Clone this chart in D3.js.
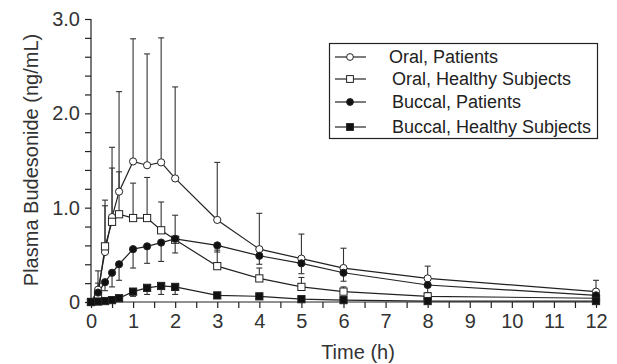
<!DOCTYPE html>
<html><head><meta charset="utf-8">
<script src="https://cdn.jsdelivr.net/npm/d3@7"></script>
<style>body{margin:0;background:#fff}svg{display:block}</style>
</head><body>
<svg id="c" width="617" height="364"></svg>
<script>
const times = [0, 0.167, 0.333, 0.5, 0.667, 1, 1.333, 1.667, 2, 3, 4, 5, 6, 8, 12];
const oralPatients      = [0, 0.13, 0.53, 0.90, 1.17, 1.49, 1.45, 1.48, 1.31, 0.87, 0.56, 0.46, 0.36, 0.25, 0.11];
const oralPatientsUpper = [0, 0.33, 1.08, 1.64, 2.23, 2.79, 2.63, 2.80, 2.28, 1.48, 0.94, 0.72, 0.57, 0.38, 0.23];
const oralHealthy       = [0, 0.07, 0.59, 0.85, 0.93, 0.89, 0.89, 0.76, 0.66, 0.38, 0.25, 0.16, 0.11, 0.06, 0.04];
const oralHealthyUpper  = [0, 0.20, 1.02, 1.42, 1.38, 1.26, 1.32, 1.06, 0.92, 0.55, 0.36, 0.26, 0.16, 0.10, 0.06];
const buccalPatients      = [0, 0.10, 0.21, 0.31, 0.40, 0.56, 0.59, 0.63, 0.67, 0.60, 0.49, 0.41, 0.31, 0.18, 0.07];
const buccalPatientsLower = [0, 0.04, 0.12, 0.16, 0.23, 0.36, 0.41, 0.43, 0.52, 0.53, 0.40, 0.30, 0.22, 0.10, 0.03];
const buccalHealthy      = [0, 0.005, 0.01, 0.02, 0.04, 0.11, 0.15, 0.17, 0.16, 0.07, 0.06, 0.03, 0.02, 0.01, 0.01];
const buccalHealthyLower = [0, 0.005, 0.01, 0.02, 0.02, 0.06, 0.08, 0.08, 0.08, 0.07, 0.06, 0.03, 0.02, 0.01, 0.01];
const seriesNames = ["Oral, Patients", "Oral, Healthy Subjects", "Buccal, Patients", "Buccal, Healthy Subjects"];
const xTickValues = [0,1,2,3,4,5,6,7,8,9,10,11,12];
const yTickLabels = ["0", "1.0", "2.0", "3.0"];

const series = [
  {name: seriesNames[0], vals: oralPatients, err: oralPatientsUpper, shape: "circle", fill: "#fff"},
  {name: seriesNames[1], vals: oralHealthy, err: oralHealthyUpper, shape: "square", fill: "#fff"},
  {name: seriesNames[2], vals: buccalPatients, err: buccalPatientsLower, shape: "circle", fill: "#111"},
  {name: seriesNames[3], vals: buccalHealthy, err: buccalHealthyLower, shape: "square", fill: "#111"}
];

const svg = d3.select("#c");
const x = d3.scaleLinear().domain([0, 12]).range([91, 596]);
const y = d3.scaleLinear().domain([0, 3]).range([302, 19]);
const ink = "#222";
const font = "Liberation Sans, Arial, sans-serif";

// axes
const yAxis = d3.axisLeft(y).tickValues(d3.range(0, 3.001, 0.2)).tickSize(6)
  .tickFormat(d => { const i = [0,1,2,3].findIndex(v => Math.abs(v - d) < 1e-6); return i >= 0 ? yTickLabels[i] : ""; });
const gy = svg.append("g").attr("transform", `translate(${x(0)},0)`).call(yAxis);
gy.select(".domain").attr("stroke", ink).attr("stroke-width", 1.2).attr("d", `M-0,${y(3)}V${y(0)}`);
gy.selectAll(".tick line").attr("stroke", ink).attr("stroke-width", 1.2);
gy.selectAll(".tick text").attr("font-family", font).attr("font-size", 20).attr("fill", "#333").attr("x", -11);

const xAxis = d3.axisBottom(x).tickValues(d3.range(0, 12.001, 0.5)).tickSize(6)
  .tickFormat(d => xTickValues.includes(d) ? String(d) : "");
const gx = svg.append("g").attr("transform", `translate(0,${y(0)})`).call(xAxis);
gx.select(".domain").attr("stroke", ink).attr("stroke-width", 1.2).attr("d", `M${x(0)},0H${x(12)}`);
gx.selectAll(".tick line").attr("stroke", ink).attr("stroke-width", 1.2);
gx.selectAll(".tick text").attr("font-family", font).attr("font-size", 20).attr("fill", "#333").attr("y", 12);

svg.append("text").attr("x", 358).attr("y", 359).attr("text-anchor", "middle")
  .attr("font-family", font).attr("font-size", 20).attr("fill", "#333").text("Time (h)");
svg.append("text").attr("transform", "translate(38,160) rotate(-90)").attr("text-anchor", "middle")
  .attr("font-family", font).attr("font-size", 20).attr("fill", "#333").text("Plasma Budesonide (ng/mL)");

// lines
const line = d3.line().x((d, i) => x(times[i])).y(d => y(d));
series.forEach(s => {
  svg.append("path").attr("d", line(s.vals)).attr("fill", "none").attr("stroke", ink).attr("stroke-width", 1.2);
});
// error bars
series.forEach(s => {
  const g = svg.append("g");
  s.vals.forEach((v, i) => {
    const e = s.err[i];
    if (Math.abs(e - v) < 0.015) return;
    g.append("line").attr("x1", x(times[i])).attr("x2", x(times[i])).attr("y1", y(v)).attr("y2", y(e))
      .attr("stroke", "#333").attr("stroke-width", 1.1);
    g.append("line").attr("x1", x(times[i]) - 3).attr("x2", x(times[i]) + 3).attr("y1", y(e)).attr("y2", y(e))
      .attr("stroke", "#333").attr("stroke-width", 1.1);
  });
});
// markers
function marker(g, shape, fill, cx, cy, r) {
  if (shape === "circle") {
    g.append("circle").attr("cx", cx).attr("cy", cy).attr("r", r).attr("fill", fill).attr("stroke", ink).attr("stroke-width", 1);
  } else {
    g.append("rect").attr("x", cx - r).attr("y", cy - r).attr("width", 2 * r).attr("height", 2 * r)
      .attr("fill", fill).attr("stroke", ink).attr("stroke-width", 1);
  }
}
series.forEach(s => {
  const g = svg.append("g");
  s.vals.forEach((v, i) => marker(g, s.shape, s.fill, x(times[i]), y(v), 3.6));
});

// legend
const lg = svg.append("g");
lg.append("rect").attr("x", 329.5).attr("y", 43.5).attr("width", 268).attr("height", 95)
  .attr("fill", "#fff").attr("stroke", ink).attr("stroke-width", 1.2);
const rowY = [57, 79, 102, 127];
const textX = [389, 392, 392, 392];
series.forEach((s, i) => {
  lg.append("line").attr("x1", 335).attr("x2", 366).attr("y1", rowY[i]).attr("y2", rowY[i])
    .attr("stroke", ink).attr("stroke-width", 1.2);
  marker(lg, s.shape, s.fill, 350, rowY[i], 3.4);
  lg.append("text").attr("x", textX[i]).attr("y", rowY[i]).attr("dy", "0.35em")
    .attr("font-family", font).attr("font-size", 18).attr("fill", "#222").text(s.name);
});
</script>
</body></html>
